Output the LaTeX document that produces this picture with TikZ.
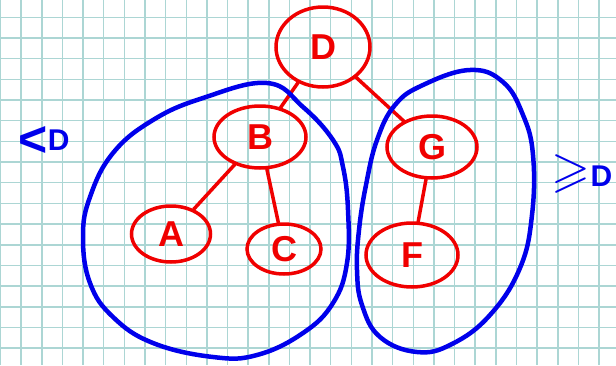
\documentclass[tikz,border=0pt]{standalone}
\usepackage{amssymb}
\usepackage{fontspec}
\newfontfamily\inkfont{Liberation Sans}
\usetikzlibrary{shapes.geometric}
\definecolor{inkred}{RGB}{240,0,0}
\definecolor{inkblue}{RGB}{0,0,235}
\definecolor{gridcol}{RGB}{172,214,212}
\tikzset{
  vertex/.style={ellipse,draw=inkred,line width=3.5pt,text=inkred,inner sep=0pt,
    font=\inkfont\bfseries\fontsize{36}{36}\selectfont},
  edge/.style={draw=inkred,line width=3.5pt,line cap=round},
  blob/.style={draw=inkblue,line width=4.5pt},
  note/.style={text=inkblue,inner sep=0pt,font=\inkfont\bfseries\fontsize{30}{30}\selectfont},
  gridline/.style={draw=gridcol,line width=1.5pt}
}
\newcommand{\bigsign}[1]{{\fontsize{50}{50}\selectfont#1}}
\begin{document}
\begin{tikzpicture}[x=1pt,y=-1pt]
\useasboundingbox (0,0) rectangle (616,365);
\fill[white] (0,0) rectangle (616,365);
% graph paper
\foreach \i in {0,...,29}
  \draw[gridline] ({\i*20.64+0.5},0) -- ++(0,365);
\foreach \j in {0,...,17}
  \draw[gridline] (0,{\j*20.68+17.3}) -- ++(616,0);

% tree
\node[vertex,minimum width=94,minimum height=80] (D) at (323,47) {D};
\node[vertex,minimum width=92,minimum height=62] (B) at (260,137) {B};
\node[vertex,minimum width=79,minimum height=56] (A) at (171,234) {A};
\node[vertex,minimum width=74,minimum height=50] (C) at (284,249) {C};
\node[vertex,minimum width=90,minimum height=62] (G) at (432,147) {G};
\node[vertex,minimum width=92,minimum height=64] (F) at (412,255) {F};
\draw[edge] (D) -- (B);
\draw[edge] (D) -- (G);
\draw[edge] (B) -- (A);
\draw[edge] (B) -- (C);
\draw[edge] (G) -- (F);

% subtrees
\draw[blob] plot[smooth cycle,tension=0.7] coordinates {(267,83) (203,98) (153,120)
  (113,153) (90,197) (83,237) (90,283) (113,317) (153,343) (213,357) (257,355)
  (303,333) (333,303) (347,263) (348,210) (343,167) (333,140) (303,107)};
\draw[blob] plot[smooth cycle,tension=0.7] coordinates {(470,70) (423,85) (395,105)
  (377,140) (366,185) (359,230) (357,270) (362,305) (380,337) (417,352) (452,344)
  (490,315) (520,268) (532,215) (533,155) (523,115) (503,82)};
\node[note] (less) at (44,141) {\bigsign{<}\raisebox{6pt}{D}};
\node[note] (more) at (582,174) {\bigsign{$\geqslant$}D};
\end{tikzpicture}
\end{document}
